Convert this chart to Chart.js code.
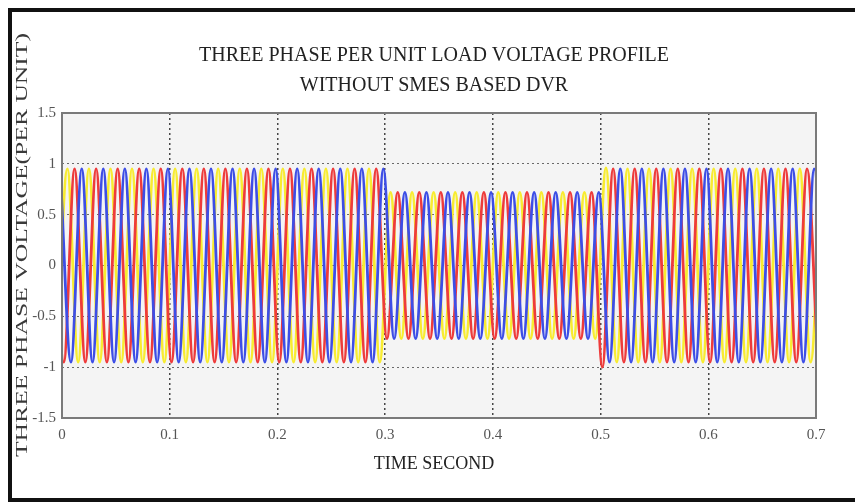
<!DOCTYPE html>
<html>
<head>
<meta charset="utf-8">
<script src="https://cdn.jsdelivr.net/npm/chart.js@4.4.1/dist/chart.umd.min.js"></script>
<style>
  html, body { margin: 0; padding: 0; background: #fff; }
  canvas { display: block; }
</style>
</head>
<body>
<canvas id="voltageChart" width="855" height="504"></canvas>
<script>
// Texts of the chart
const chartTitle = ["THREE PHASE PER UNIT LOAD VOLTAGE PROFILE", "WITHOUT SMES BASED DVR"];
const xAxisTitle = "TIME SECOND";
const yAxisTitle = "THREE PHASE VOLTAGE(PER UNIT)";
const xTickLabels = ["0", "0.1", "0.2", "0.3", "0.4", "0.5", "0.6", "0.7"];
const yTickLabels = ["-1.5", "-1", "-0.5", "0", "0.5", "1", "1.5"];

// 50 Hz supply: one peak every half cycle, first plotted peak of each phase (s)
const halfCycle = 0.01;
const firstPeakA = -0.005;
const firstPeakB = -0.00833;
const firstPeakC = -0.00167;

// Peak value of each half cycle (sag from 0.3 s to 0.5 s)
const phaseAPeaks = [
  -0.95, 0.95, -0.95, 0.95, -0.95, 0.95, -0.95, 0.95, -0.95, 0.95,
  -0.95, 0.95, -0.95, 0.95, -0.95, 0.95, -0.95, 0.95, -0.95, 0.95,
  -0.95, 0.95, -0.95, 0.95, -0.95, 0.95, -0.95, 0.95, -0.95, 0.95,
  -0.95, 0.72, -0.72, 0.72, -0.72, 0.72, -0.72, 0.72, -0.72, 0.72,
  -0.72, 0.72, -0.72, 0.72, -0.72, 0.72, -0.72, 0.72, -0.72, 0.72,
  -0.72, 0.96, -0.95, 0.95, -0.95, 0.95, -0.95, 0.95, -0.95, 0.95,
  -0.95, 0.95, -0.95, 0.95, -0.95, 0.95, -0.95, 0.95, -0.95, 0.95,
  -0.95, 0.95
];
const phaseBPeaks = [
  0.95, -0.95, 0.95, -0.95, 0.95, -0.95, 0.95, -0.95, 0.95, -0.95,
  0.95, -0.95, 0.95, -0.95, 0.95, -0.95, 0.95, -0.95, 0.95, -0.95,
  0.95, -0.95, 0.95, -0.95, 0.95, -0.95, 0.95, -0.95, 0.95, -0.95,
  0.95, -0.72, 0.72, -0.72, 0.72, -0.72, 0.72, -0.72, 0.72, -0.72,
  0.72, -0.72, 0.72, -0.72, 0.72, -0.72, 0.72, -0.72, 0.72, -0.72,
  0.72, -1.0, 0.95, -0.95, 0.95, -0.95, 0.95, -0.95, 0.95, -0.95,
  0.95, -0.95, 0.95, -0.95, 0.95, -0.95, 0.95, -0.95, 0.95, -0.95,
  0.95, -0.95
];
const phaseCPeaks = [
  0.95, -0.95, 0.95, -0.95, 0.95, -0.95, 0.95, -0.95, 0.95, -0.95,
  0.95, -0.95, 0.95, -0.95, 0.95, -0.95, 0.95, -0.95, 0.95, -0.95,
  0.95, -0.95, 0.95, -0.95, 0.95, -0.95, 0.95, -0.95, 0.95, -0.95,
  0.95, -0.72, 0.72, -0.72, 0.72, -0.72, 0.72, -0.72, 0.72, -0.72,
  0.72, -0.72, 0.72, -0.72, 0.72, -0.72, 0.72, -0.72, 0.72, -0.72,
  0.72, -0.95, 0.95, -0.95, 0.95, -0.95, 0.95, -0.95, 0.95, -0.95,
  0.95, -0.95, 0.95, -0.95, 0.95, -0.95, 0.95, -0.95, 0.95, -0.95,
  0.95, -0.95
];

// Turn a list of half cycle peaks into {x, y} points
function toPoints(peaks, firstPeak) {
  return peaks.map((v, i) => ({ x: firstPeak + i * halfCycle, y: v }));
}

const serif = "'Liberation Serif', 'Times New Roman', serif";

// Background, outer frame and all titles
const frameAndText = {
  id: "frameAndText",
  beforeDraw(chart) {
    const { ctx, chartArea: a } = chart;
    ctx.save();
    ctx.fillStyle = "#fff";
    ctx.fillRect(0, 0, chart.width, chart.height);
    ctx.fillStyle = "#f4f4f4";
    ctx.fillRect(a.left, a.top, a.right - a.left, a.bottom - a.top);
    ctx.restore();
  },
  afterDraw(chart) {
    const { ctx, chartArea: a } = chart;
    ctx.save();

    // plot box
    ctx.strokeStyle = "#7a7a7a";
    ctx.lineWidth = 2;
    ctx.strokeRect(a.left, a.top, a.right - a.left, a.bottom - a.top);

    // black picture frame (left, top, bottom)
    ctx.fillStyle = "#111";
    ctx.fillRect(8, 8, 847, 4);
    ctx.fillRect(8, 8, 4, 494);
    ctx.fillRect(8, 498, 847, 4);

    ctx.fillStyle = "#222";
    ctx.textAlign = "center";
    ctx.textBaseline = "middle";

    // main title
    ctx.font = "20px " + serif;
    ctx.fillText(chartTitle[0], 434, 56);
    ctx.fillText(chartTitle[1], 434, 86);

    // x axis title
    ctx.font = "18px " + serif;
    ctx.fillText(xAxisTitle, 434, 464);

    // y axis title, stretched along its length like the original
    ctx.fillStyle = "#3a3a3a";
    ctx.font = "17px " + serif;
    const w = ctx.measureText(yAxisTitle).width;
    ctx.translate(23, 245);
    ctx.rotate(-Math.PI / 2);
    ctx.scale(424 / w, 1);
    ctx.fillText(yAxisTitle, 0, 0);

    ctx.restore();
  }
};

const voltageChart = new Chart(document.getElementById("voltageChart"), {
  type: "line",
  data: {
    datasets: [
      {
        label: "Phase C",
        data: toPoints(phaseCPeaks, firstPeakC),
        borderColor: "#3d4ee6",
      },
      {
        label: "Phase B",
        data: toPoints(phaseBPeaks, firstPeakB),
        borderColor: "#ee3b3b",
      },
      {
        label: "Phase A",
        data: toPoints(phaseAPeaks, firstPeakA),
        borderColor: "#f8ec30",
      },
    ],
  },
  options: {
    responsive: false,
    animation: false,
    datasets: {
      line: {
        borderWidth: 2.8,
        pointRadius: 0,
        cubicInterpolationMode: "monotone",
        fill: false,
      },
    },
    layout: {
      padding: { left: 0, right: 39, top: 113, bottom: 0 },
    },
    plugins: {
      legend: { display: false },
      tooltip: { enabled: false },
      title: { display: false },
    },
    scales: {
      x: {
        type: "linear",
        min: 0,
        max: 0.7,
        z: 1,
        afterFit: (s) => { s.height = 86; },
        ticks: {
          stepSize: 0.1,
          autoSkip: false,
          maxRotation: 0,
          padding: 8,
          color: "#555",
          font: { family: serif, size: 15 },
          callback: (v, i) => xTickLabels[i],
        },
        grid: {
          color: "rgba(40,40,40,0.85)",
          lineWidth: 1.5,
          drawTicks: false,
        },
        border: { display: false, dash: [2, 3] },
      },
      y: {
        type: "linear",
        min: -1.5,
        max: 1.5,
        z: 1,
        afterFit: (s) => { s.width = 62; },
        ticks: {
          stepSize: 0.5,
          padding: 6,
          color: "#555",
          font: { family: serif, size: 15 },
          callback: (v, i) => yTickLabels[i],
        },
        grid: {
          color: "rgba(60,60,60,0.75)",
          lineWidth: 1,
          drawTicks: false,
        },
        border: { display: false, dash: [2, 3] },
      },
    },
  },
  plugins: [frameAndText],
});
</script>
</body>
</html>
